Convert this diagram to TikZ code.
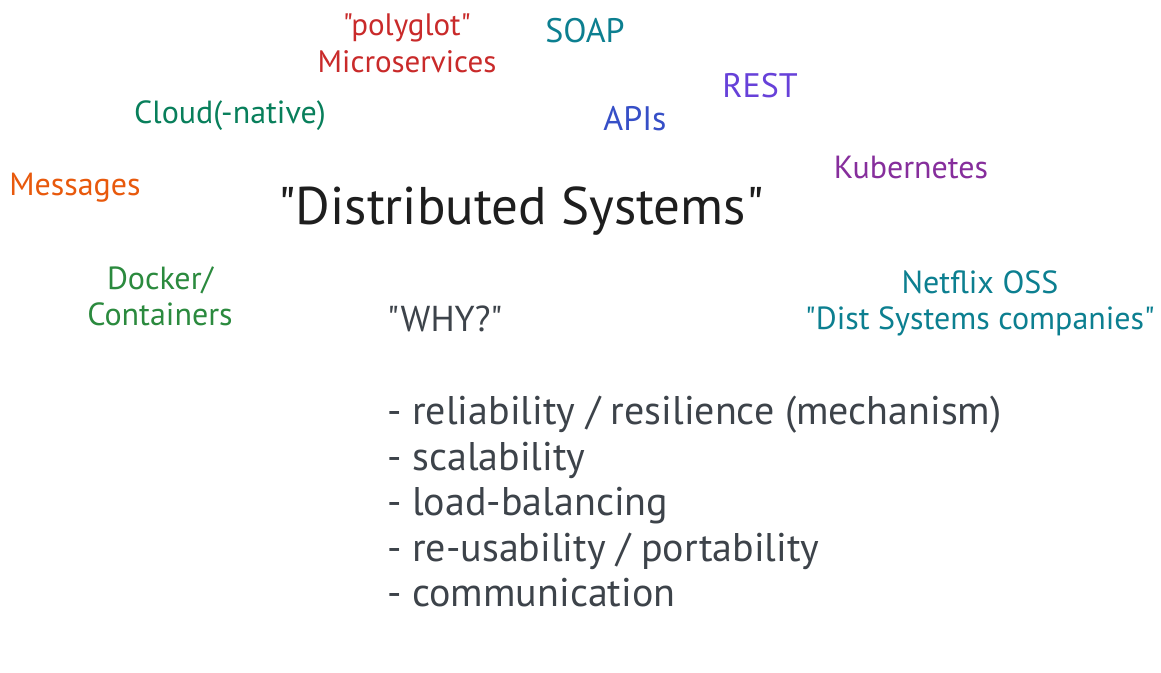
\documentclass[tikz,border=0pt]{standalone}
\usepackage{fontspec}
\setmainfont{PT Sans}[Ligatures=TeXOff]
\definecolor{cred}{HTML}{C92A2A}
\definecolor{cteal}{HTML}{0C7F90}
\definecolor{cviolet}{HTML}{6741D9}
\definecolor{cblue}{HTML}{364FC7}
\definecolor{cgrape}{HTML}{862E9C}
\definecolor{cgreen}{HTML}{087F5B}
\definecolor{corange}{HTML}{E8590C}
\definecolor{cdocker}{HTML}{2B8A3E}
\definecolor{cgray}{HTML}{3D434A}
\definecolor{cblack}{HTML}{1E1E1E}
\tikzset{
  lbl/.style={inner sep=0pt, align=center, font=\fontsize{32}{36}\selectfont},
  caps/.style={inner sep=0pt, font=\fontsize{34}{40}\selectfont},
  ttl/.style={inner sep=0pt, font=\fontsize{53}{60}\selectfont, text=cblack},
  why/.style={inner sep=0pt, align=left, text=cgray, font=\fontsize{40}{45.5}\selectfont},
}
\begin{document}
\begin{tikzpicture}[x=1pt,y=-1pt]
\useasboundingbox[fill=white] (0,0) rectangle (1161,672);
\node[lbl, text=cred, font=\fontsize{31}{37}\selectfont] (poly) at (407,43) {"polyglot"\\Microservices};
\node[caps, text=cteal] (soap) at (585,31) {SOAP};
\node[caps, text=cviolet] (rest) at (760,86) {REST};
\node[caps, text=cblue] (apis) at (635,119) {APIs};
\node[lbl, text=cgreen] (cloud) at (230,116) {Cloud(-native)};
\node[lbl, text=cgrape] (kube) at (911,167) {Kubernetes};
\node[lbl, text=corange] (msgs) at (75,188) {Messages};
\node[ttl] (title) at (521,211) {"Distributed Systems"};
\node[lbl, text=cdocker] (docker) at (160,296) {Docker/\\Containers};
\node[lbl, text=cteal] (netflix) at (980,303) {Netflix OSS\\"Dist Systems companies"};
\node[why, anchor=base west, font=\fontsize{36}{45.5}\selectfont] (whyq) at (387,331) {"WHY?"};
\node[why, anchor=north west] (list) at (387,396) {- reliability / resilience (mechanism)\\- scalability\\- load-balancing\\- re-usability / portability\\- communication};
\end{tikzpicture}
\end{document}
